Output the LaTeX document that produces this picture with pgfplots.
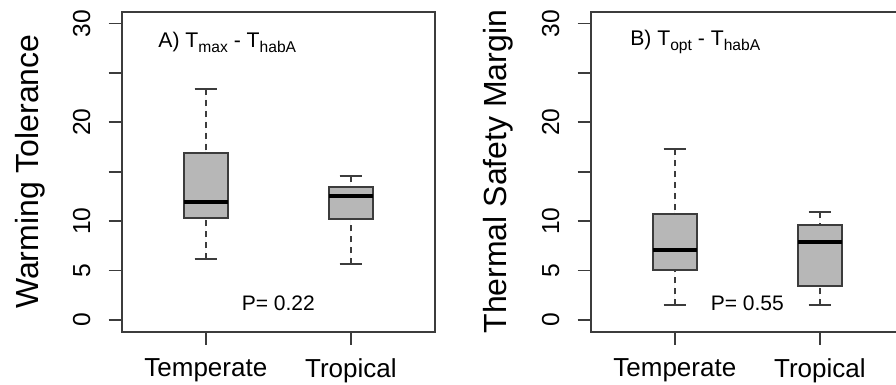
\documentclass[border=0pt]{standalone}
\usepackage{pgfplots}
\pgfplotsset{compat=1.18}
\usepgfplotslibrary{statistics}
\usepackage{fontspec}
\setmainfont{Liberation Sans}
\definecolor{boxgray}{RGB}{183,183,183}
\definecolor{framegray}{RGB}{60,60,60}
\newcommand\sub[1]{\raisebox{-0.45ex}{\fontsize{7.8}{8}\selectfont #1}}

\pgfplotsset{
  boxplot/draw/lower whisker/.code={%
    \draw[dash pattern=on 3pt off 2.5pt]
      (boxplot cs:\pgfplotsboxplotvalue{lower whisker}) --
      (boxplot cs:\pgfplotsboxplotvalue{lower quartile});
    \draw[solid]
      (boxplot whisker cs:\pgfplotsboxplotvalue{lower whisker},0) --
      (boxplot whisker cs:\pgfplotsboxplotvalue{lower whisker},1);
  },
  boxplot/draw/upper whisker/.code={%
    \draw[dash pattern=on 3pt off 2.5pt]
      (boxplot cs:\pgfplotsboxplotvalue{upper whisker}) --
      (boxplot cs:\pgfplotsboxplotvalue{upper quartile});
    \draw[solid]
      (boxplot whisker cs:\pgfplotsboxplotvalue{upper whisker},0) --
      (boxplot whisker cs:\pgfplotsboxplotvalue{upper whisker},1);
  },
  rpanel/.style={
    scale only axis, width=156.65pt, height=160pt,
    xmin=0.42, xmax=2.58, ymin=-1.2, ymax=31.2,
    xtick={1,2}, xticklabels={Temperate,Tropical},
    ytick={0,5,10,15,20,25,30}, yticklabels={0,5,10,,20,,30},
    xtick pos=left, ytick pos=left, tick align=outside,
    major tick length=6.5pt,
    axis line style={draw=framegray, line width=1pt},
    every tick/.style={draw=framegray, line width=0.9pt},
    xticklabel style={font=\fontsize{13}{15}\selectfont, anchor=north, inner sep=0pt},
    yticklabel style={font=\fontsize{12.3}{14}\selectfont, rotate=90, anchor=south, inner sep=0pt},
    xticklabel shift=7pt,
    yticklabel shift=9pt,
    /pgf/number format/assume math mode=true,
    boxplot/draw direction=y,
    boxplot/box extend=0.3,
    boxplot/whisker extend=0.155,
    boxplot/every median/.style={line width=2pt, draw=black},
    clip=false,
  },
  rbox/.style={boxplot prepared={#1}, draw=framegray, fill=boxgray, line width=1pt, solid},
}

\begin{document}
\begin{tikzpicture}
\useasboundingbox (0,0) rectangle (448pt,192.5pt);
\clip (0,0) rectangle (448pt,192.5pt);
\begin{axis}[rpanel, at={(60.85pt,26.65pt)}, anchor=south west,
  ylabel={Warming Tolerance},
  every axis y label/.style={at={(axis description cs:-0.2927,0.5)}, rotate=90, anchor=center, font=\fontsize{16}{18}\selectfont}]
\addplot[rbox={draw position=1, lower whisker=6.2, lower quartile=10.3, median=11.9, upper quartile=16.9, upper whisker=23.4}] coordinates {};
\addplot[rbox={draw position=2, lower whisker=5.7, lower quartile=10.2, median=12.5, upper quartile=13.5, upper whisker=14.6}] coordinates {};
\node[anchor=west, inner sep=0pt, font=\fontsize{10.6}{12}\selectfont] at (axis cs:0.67,28.1) {A) T\sub{max} - T\sub{habA}};
\node[font=\fontsize{10.5}{12}\selectfont] at (axis cs:1.5,1.7) {P= 0.22};
\end{axis}
\begin{axis}[rpanel, at={(295.35pt,26.65pt)}, anchor=south west,
  ylabel={Thermal Safety Margin},
  every axis y label/.style={at={(axis description cs:-0.2959,0.5)}, rotate=90, anchor=center, font=\fontsize{16}{18}\selectfont}]
\addplot[rbox={draw position=1, lower whisker=1.5, lower quartile=5.05, median=7.07, upper quartile=10.74, upper whisker=17.3}] coordinates {};
\addplot[rbox={draw position=2, lower whisker=1.5, lower quartile=3.46, median=7.9, upper quartile=9.6, upper whisker=10.9}] coordinates {};
\node[anchor=west, inner sep=0pt, font=\fontsize{10.6}{12}\selectfont] at (axis cs:0.69,28.1) {B) T\sub{opt} - T\sub{habA}};
\node[font=\fontsize{10.5}{12}\selectfont] at (axis cs:1.5,1.7) {P= 0.55};
\end{axis}
\end{tikzpicture}
\end{document}
